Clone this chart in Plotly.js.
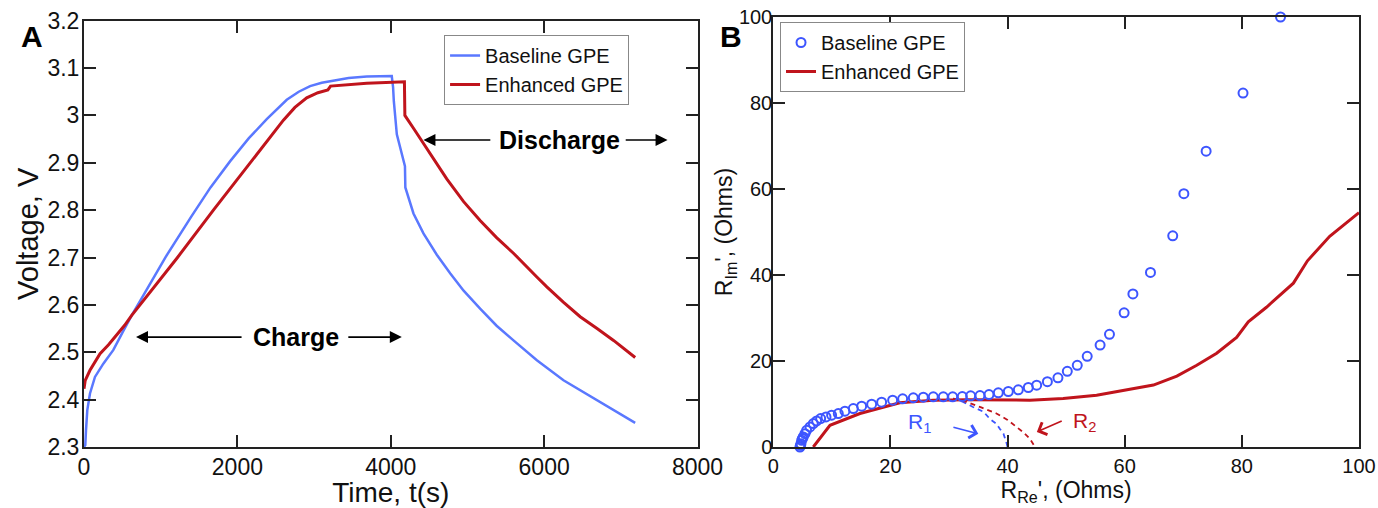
<!DOCTYPE html>
<html>
<head>
<meta charset="utf-8">
<script src="https://cdn.plot.ly/plotly-3.0.1.min.js"></script>
<style>html,body{margin:0;padding:0;background:#fff;}#chart{width:1378px;height:508px;}</style>
</head>
<body>
<div id="chart"></div>
<script>
// ---- Panel A: charge/discharge voltage ----
const timeBaseline = [0, 17, 26, 43, 78, 143, 252, 383, 513, 622, 774, 948, 1060, 1405, 1650, 1904, 2150, 2383, 2644, 2800, 2948, 3100, 3252, 3450, 3687, 4013, 4030, 4040, 4079, 4165, 4185, 4190, 4296, 4426, 4600, 4774, 4950, 5165, 5380, 5600, 5905, 6252, 6688, 7187];
const voltBaseline = [2.30, 2.304, 2.335, 2.378, 2.413, 2.448, 2.476, 2.505, 2.545, 2.578, 2.620, 2.668, 2.700, 2.788, 2.848, 2.903, 2.952, 2.992, 3.033, 3.050, 3.062, 3.069, 3.074, 3.079, 3.082, 3.083, 3.06, 3.03, 2.96, 2.90, 2.893, 2.848, 2.793, 2.751, 2.706, 2.667, 2.630, 2.592, 2.556, 2.525, 2.483, 2.441, 2.399, 2.351];
const timeEnhanced = [0, 15, 78, 209, 320, 426, 530, 622, 730, 948, 1165, 1209, 1687, 2165, 2600, 2750, 2904, 3050, 3180, 3215, 3687, 4178, 4184, 4296, 4426, 4580, 4730, 4950, 5165, 5380, 5600, 5905, 6035, 6250, 6470, 6690, 6905, 7187];
const voltEnhanced = [2.423, 2.44, 2.462, 2.497, 2.516, 2.537, 2.557, 2.578, 2.600, 2.646, 2.690, 2.698, 2.800, 2.900, 2.990, 3.017, 3.037, 3.048, 3.054, 3.062, 3.068, 3.071, 3.000, 2.973, 2.941, 2.902, 2.866, 2.818, 2.778, 2.742, 2.709, 2.659, 2.638, 2.606, 2.575, 2.550, 2.525, 2.489];

// ---- Panel B: impedance (Nyquist) ----
const reBaseline = [4.56, 4.65, 4.73, 4.85, 4.98, 5.12, 5.41, 5.70, 6.27, 6.83, 7.41, 8.09, 9.0, 9.96, 11.10, 12.24, 13.66, 15.09, 16.80, 18.50, 20.38, 22.09, 23.91, 25.62, 27.32, 29.03, 30.63, 32.27, 33.70, 35.29, 36.83, 38.42, 40.13, 41.84, 43.54, 44.97, 46.8, 48.6, 50.2, 51.9, 53.6, 55.8, 57.4, 59.9, 61.4, 64.4, 68.2, 70.1, 73.9, 80.2, 86.6];
const imBaseline = [0.0, 0.4, 0.78, 1.56, 1.95, 2.33, 3.11, 3.89, 4.66, 5.44, 6.06, 6.6, 7.0, 7.39, 7.78, 8.32, 8.94, 9.49, 9.95, 10.42, 10.89, 11.20, 11.43, 11.59, 11.66, 11.66, 11.66, 11.74, 11.89, 11.97, 12.20, 12.59, 12.91, 13.29, 13.84, 14.38, 15.2, 16.1, 17.6, 19.0, 21.1, 23.7, 26.2, 31.2, 35.6, 40.6, 49.1, 58.9, 68.8, 82.3, 100.0];
const reEnhanced = [6.83, 9.68, 14.8, 21.6, 27.3, 33.0, 43.8, 49.5, 55.2, 60.3, 64.9, 68.9, 72.3, 75.7, 79.1, 81.1, 84.2, 88.8, 91.2, 95.0, 100.0];
const imEnhanced = [0.0, 5.05, 7.78, 10.3, 10.9, 11.0, 10.9, 11.3, 12.05, 13.2, 14.4, 16.5, 19.0, 21.8, 25.5, 29.1, 32.5, 38.1, 43.3, 49.0, 54.5];
const reArcR1 = [30.7, 32.4, 34.1, 35.9, 37.0, 38.1, 38.7, 39.3, 39.85, 40.0];
const imArcR1 = [11.3, 10.5, 9.3, 8.2, 6.5, 5.4, 4.2, 3.1, 0.8, 0.0];
const reArcR2 = [30.7, 33.0, 35.5, 38.1, 40.0, 41.6, 42.8, 43.8, 44.7];
const imArcR2 = [11.2, 10.5, 9.2, 7.8, 6.3, 4.7, 3.3, 1.95, 0.0];

const FONT = 'Liberation Sans, Arial, Helvetica, sans-serif';
const BLUE_LINE = '#5a78ff';
const BLUE_MARK = '#3d55ff';
const RED = '#c0141c';
const AXC = '#222';

const traces = [
  {x: timeBaseline, y: voltBaseline, mode: 'lines', name: 'Baseline GPE', line: {color: BLUE_LINE, width: 2.5}, xaxis: 'x', yaxis: 'y', legend: 'legend'},
  {x: timeEnhanced, y: voltEnhanced, mode: 'lines', name: 'Enhanced GPE', line: {color: RED, width: 3}, xaxis: 'x', yaxis: 'y', legend: 'legend'},
  {x: reArcR1, y: imArcR1, mode: 'lines', showlegend: false, line: {color: BLUE_MARK, width: 1.8, dash: '5px,4px'}, xaxis: 'x2', yaxis: 'y2'},
  {x: reArcR2, y: imArcR2, mode: 'lines', showlegend: false, line: {color: RED, width: 1.8, dash: '5px,4px'}, xaxis: 'x2', yaxis: 'y2'},
  {x: reEnhanced, y: imEnhanced, mode: 'lines', name: 'Enhanced GPE', line: {color: RED, width: 3}, xaxis: 'x2', yaxis: 'y2', legend: 'legend2'},
  {x: reBaseline, y: imBaseline, mode: 'markers', name: 'Baseline GPE', cliponaxis: false,
   marker: {symbol: 'circle-open', size: 9, color: BLUE_MARK, line: {width: 2, color: BLUE_MARK}}, xaxis: 'x2', yaxis: 'y2', legend: 'legend2'}
];

function axisBase(fs) {
  return {showline: true, linewidth: 2, linecolor: AXC, mirror: 'ticks', ticks: 'inside', ticklen: 12, tickwidth: 2, tickcolor: AXC,
          showgrid: false, zeroline: false, tickfont: {family: FONT, size: fs, color: '#111'}, fixedrange: true};
}

const layout = {
  width: 1378, height: 508,
  margin: {l: 84, r: 19, t: 17, b: 61},
  paper_bgcolor: '#fff', plot_bgcolor: '#fff',
  font: {family: FONT, color: '#111'},
  xaxis: Object.assign(axisBase(23), {domain: [0, 0.4812], range: [0, 8000], dtick: 2000, tick0: 0, anchor: 'y', ticklabelstandoff: -2,
    title: {text: 'Time, t(s)', font: {family: FONT, size: 28, color: '#111'}, standoff: 11}}),
  yaxis: Object.assign(axisBase(23), {domain: [0, 0.9914], range: [2.3, 3.2], dtick: 0.1, tick0: 2.3, anchor: 'x', ticklabelstandoff: -2,
    title: {text: 'Voltage, V', font: {family: FONT, size: 29, color: '#111'}, standoff: 0}}),
  xaxis2: Object.assign(axisBase(20), {domain: [0.5406, 1], range: [0, 100], dtick: 20, tick0: 0, anchor: 'y2',
    title: {text: "R<sub>Re</sub>', (Ohms)", font: {family: FONT, size: 23, color: '#111'}, standoff: 6}}),
  yaxis2: Object.assign(axisBase(20), {domain: [0, 1], range: [0, 100], dtick: 20, tick0: 0, anchor: 'x2', ticklabelstandoff: -5,
    title: {text: "R<sub>Im</sub>', (Ohms)", font: {family: FONT, size: 23, color: '#111'}, standoff: 0}}),
  legend: {x: 0.2824, y: 0.8767, xanchor: 'left', yanchor: 'middle', bgcolor: '#fff', bordercolor: '#888', borderwidth: 1,
           font: {family: FONT, size: 20, color: '#111'}, tracegroupgap: 0},
  legend2: {x: 0.5459, y: 0.907, xanchor: 'left', yanchor: 'middle', bgcolor: '#fff', bordercolor: '#888', borderwidth: 1,
           font: {family: FONT, size: 20, color: '#111'}, traceorder: 'reversed', tracegroupgap: 0},
  annotations: [
    {xref: 'paper', yref: 'paper', x: -0.0408, y: 0.9535, xanchor: 'center', yanchor: 'middle', text: '<b>A</b>', showarrow: false, font: {family: FONT, size: 30, color: '#000'}},
    {xref: 'paper', yref: 'paper', x: 0.5075, y: 0.9535, xanchor: 'center', yanchor: 'middle', text: '<b>B</b>', showarrow: false, font: {family: FONT, size: 30, color: '#000'}},
    {xref: 'x', yref: 'y', x: 2765, y: 2.532, xanchor: 'center', yanchor: 'middle', text: '<b>Charge</b>', showarrow: false, font: {family: FONT, size: 25, color: '#000'}},
    {xref: 'x', yref: 'y', x: 678, y: 2.532, ax: 2074, ay: 2.532, axref: 'x', ayref: 'y', text: '', showarrow: true, arrowhead: 2, arrowsize: 1.5, arrowwidth: 1.6, arrowcolor: '#000'},
    {xref: 'x', yref: 'y', x: 4144, y: 2.532, ax: 3427, ay: 2.532, axref: 'x', ayref: 'y', text: '', showarrow: true, arrowhead: 2, arrowsize: 1.5, arrowwidth: 1.6, arrowcolor: '#000'},
    {xref: 'x', yref: 'y', x: 6202, y: 2.948, xanchor: 'center', yanchor: 'middle', text: '<b>Discharge</b>', showarrow: false, font: {family: FONT, size: 25, color: '#000'}},
    {xref: 'x', yref: 'y', x: 4426, y: 2.948, ax: 5318, ay: 2.948, axref: 'x', ayref: 'y', text: '', showarrow: true, arrowhead: 2, arrowsize: 1.5, arrowwidth: 1.6, arrowcolor: '#000'},
    {xref: 'x', yref: 'y', x: 7609, y: 2.948, ax: 7044, ay: 2.948, axref: 'x', ayref: 'y', text: '', showarrow: true, arrowhead: 2, arrowsize: 1.5, arrowwidth: 1.6, arrowcolor: '#000'},
    {xref: 'x2', yref: 'y2', x: 25.0, y: 5.5, xanchor: 'center', yanchor: 'middle', text: 'R<sub>1</sub>', showarrow: false, font: {family: FONT, size: 21, color: BLUE_MARK}},
    {xref: 'x2', yref: 'y2', x: 35.0, y: 3.1, ax: 30.5, ay: 4.66, axref: 'x2', ayref: 'y2', text: '', showarrow: true, arrowhead: 4, arrowsize: 1.6, arrowwidth: 1.6, arrowcolor: BLUE_MARK},
    {xref: 'x2', yref: 'y2', x: 53.2, y: 5.8, xanchor: 'center', yanchor: 'middle', text: 'R<sub>2</sub>', showarrow: false, font: {family: FONT, size: 21, color: RED}},
    {xref: 'x2', yref: 'y2', x: 45.0, y: 3.5, ax: 49.5, ay: 6.2, axref: 'x2', ayref: 'y2', text: '', showarrow: true, arrowhead: 4, arrowsize: 1.6, arrowwidth: 1.6, arrowcolor: RED}
  ]
};

Plotly.newPlot('chart', traces, layout, {displayModeBar: false, staticPlot: true});
</script>
</body>
</html>
